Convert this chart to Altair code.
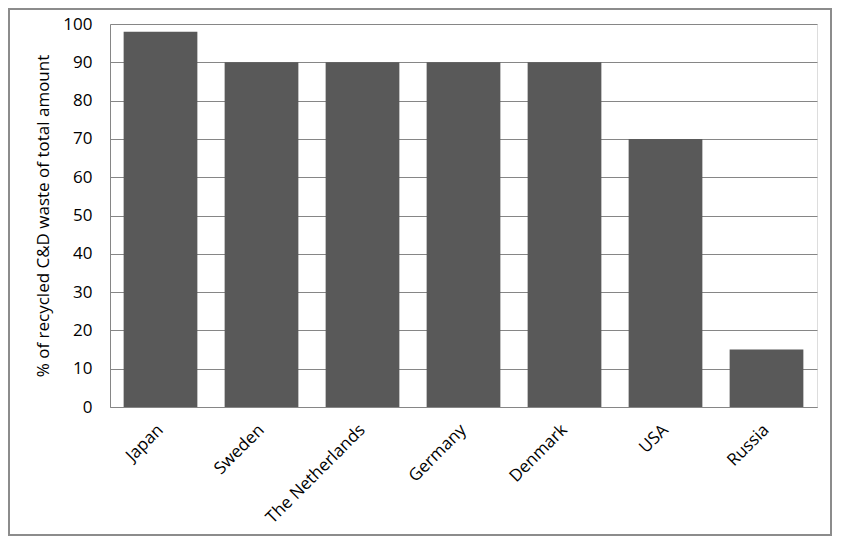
import altair as alt
import pandas as pd

countries = ["Japan", "Sweden", "The Netherlands", "Germany", "Denmark", "USA", "Russia"]
values = [98, 90, 90, 90, 90, 70, 15]

df = pd.DataFrame({"country": countries, "value": values})

W, H = 707, 383
PL, PT, PR, PB = 102, 16, 16, 132

FONT = "Open Sans"

bars = alt.Chart(df).mark_bar(color="#595959").encode(
    x=alt.X("country:N", sort=countries, title=None,
            scale=alt.Scale(paddingInner=0.27, paddingOuter=0.135),
            axis=alt.Axis(labelAngle=-45, labelAlign="right", labelBaseline="middle",
                          labelFont=FONT, labelFontSize=17, labelColor="#000000",
                          labelPadding=20, ticks=False, domainColor="#868686",
                          labelOffset=0)),
    y=alt.Y("value:Q", title="% of recycled C&D waste of total amount",
            scale=alt.Scale(domain=[0, 100], nice=False),
            axis=alt.Axis(values=list(range(0, 101, 10)), labelFont=FONT, labelFontSize=17,
                          labelColor="#000000", labelPadding=18, ticks=False,
                          domainColor="#868686", gridColor="#868686", grid=True,
                          titleFont=FONT, titleFontSize=17, titleFontWeight="normal",
                          titleColor="#000000", titlePadding=10)),
)

frame = alt.Chart(df).mark_rect(fill=None, stroke="#8c8c8c", strokeWidth=1.5, clip=False).encode(
    x=alt.value(-PL + 1), x2=alt.value(W + PR - 2),
    y=alt.value(-PT + 1), y2=alt.value(H + PB - 4),
)

chart = alt.layer(bars, frame).properties(
    width=W, height=H,
    padding={"left": PL, "top": PT, "right": PR, "bottom": PB},
    autosize=alt.AutoSizeParams(type="none"),
).configure_view(stroke="#868686").configure(background="white")

chart.save("out.html", embed_options={"renderer": "svg", "actions": False})
